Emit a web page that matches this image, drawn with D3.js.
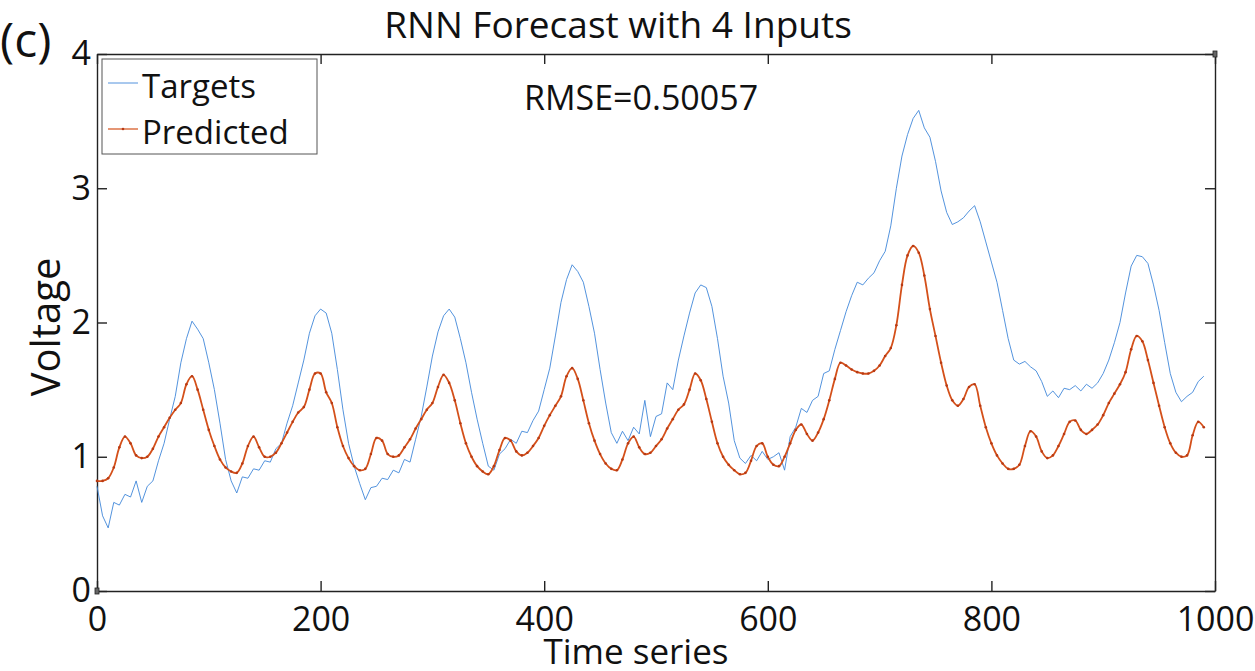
<html>
<head>
	<meta charset="UTF-8">
	<script src="https://cdn.jsdelivr.net/npm/d3@7"></script>
	<style>
		body { margin: 0; background: white; }
		text { font-family: "Open Sans", "Noto Sans", sans-serif; fill: #111; }
		path.targets { fill: none; stroke: #3f87d9; stroke-width: 0.9; }
		path.predicted { fill: none; stroke: #d4501a; stroke-width: 1.8; }
		circle.pdot { fill: #b83a14; }
		.axis path, .axis line { stroke: #222; stroke-width: 1.4; }
		.axis text { font-size: 34px; fill: #111; }
	</style>
</head>
<body>
<svg id="chart" width="1255" height="671"></svg>
<script type="text/javascript">
// time step between samples
var step = 5;

var predicted = [
	0.82, 0.82, 0.84, 0.92, 1.07, 1.15, 1.10, 1.01, 0.99, 1.00,
	1.06, 1.15, 1.22, 1.29, 1.35, 1.40, 1.54, 1.60, 1.50, 1.35,
	1.20, 1.08, 0.98, 0.92, 0.89, 0.88, 0.95, 1.08, 1.15, 1.07,
	1.00, 1.00, 1.03, 1.10, 1.18, 1.26, 1.33, 1.37, 1.50, 1.62,
	1.62, 1.48, 1.40, 1.22, 1.08, 0.99, 0.93, 0.90, 0.91, 1.02,
	1.14, 1.12, 1.02, 1.00, 1.01, 1.07, 1.13, 1.21, 1.28, 1.35,
	1.40, 1.52, 1.61, 1.55, 1.42, 1.25, 1.10, 1.00, 0.93, 0.89,
	0.87, 0.93, 1.05, 1.14, 1.12, 1.04, 1.01, 1.03, 1.08, 1.14,
	1.23, 1.31, 1.38, 1.45, 1.60, 1.66, 1.58, 1.42, 1.25, 1.12,
	1.02, 0.95, 0.91, 0.90, 0.98, 1.10, 1.15, 1.07, 1.02, 1.03,
	1.08, 1.13, 1.21, 1.28, 1.35, 1.39, 1.50, 1.62, 1.57, 1.43,
	1.26, 1.10, 1.00, 0.94, 0.90, 0.87, 0.88, 0.97, 1.08, 1.10,
	1.00, 0.94, 0.93, 1.00, 1.10, 1.20, 1.24, 1.17, 1.12, 1.18,
	1.28, 1.42, 1.58, 1.70, 1.68, 1.65, 1.63, 1.62, 1.62, 1.64,
	1.68, 1.75, 1.81, 1.98, 2.28, 2.50, 2.57, 2.52, 2.35, 2.10,
	1.90, 1.70, 1.53, 1.42, 1.38, 1.43, 1.52, 1.54, 1.38, 1.22,
	1.10, 1.01, 0.95, 0.91, 0.91, 0.94, 1.08, 1.19, 1.15, 1.04,
	0.99, 1.01, 1.08, 1.17, 1.26, 1.27, 1.20, 1.17, 1.20, 1.24,
	1.31, 1.40, 1.47, 1.54, 1.63, 1.80, 1.90, 1.86, 1.72, 1.55,
	1.38, 1.22, 1.10, 1.03, 1.00, 1.01, 1.16, 1.26, 1.22
];

var targets = [
	0.78, 0.56, 0.47, 0.66, 0.64, 0.72, 0.70, 0.82, 0.66, 0.78,
	0.82, 0.97, 1.10, 1.28, 1.45, 1.70, 1.88, 2.01, 1.95, 1.88,
	1.70, 1.50, 1.25, 0.98, 0.82, 0.73, 0.85, 0.84, 0.91, 0.90,
	0.97, 0.96, 1.06, 1.10, 1.25, 1.38, 1.55, 1.72, 1.92, 2.05,
	2.10, 2.07, 1.92, 1.65, 1.35, 1.10, 0.93, 0.80, 0.68, 0.77,
	0.78, 0.84, 0.83, 0.90, 0.88, 0.98, 0.96, 1.13, 1.30, 1.52,
	1.75, 1.93, 2.05, 2.10, 2.04, 1.88, 1.70, 1.48, 1.28, 1.10,
	0.93, 0.90, 1.02, 1.06, 1.13, 1.10, 1.19, 1.18, 1.27, 1.34,
	1.50, 1.66, 1.90, 2.15, 2.32, 2.43, 2.38, 2.30, 2.12, 1.92,
	1.65, 1.40, 1.18, 1.10, 1.19, 1.12, 1.22, 1.17, 1.42, 1.15,
	1.30, 1.32, 1.55, 1.50, 1.72, 1.90, 2.07, 2.22, 2.28, 2.26,
	2.12, 1.88, 1.60, 1.40, 1.12, 0.99, 0.95, 1.01, 0.97, 1.04,
	0.98, 1.00, 1.03, 0.90, 1.15, 1.22, 1.36, 1.33, 1.42, 1.45,
	1.62, 1.64, 1.80, 1.94, 2.08, 2.20, 2.30, 2.28, 2.33, 2.37,
	2.46, 2.53, 2.72, 3.00, 3.24, 3.40, 3.52, 3.58, 3.45, 3.38,
	3.20, 2.98, 2.82, 2.73, 2.75, 2.78, 2.83, 2.87, 2.75, 2.60,
	2.45, 2.30, 2.09, 1.88, 1.72, 1.69, 1.71, 1.67, 1.64, 1.56,
	1.45, 1.49, 1.44, 1.51, 1.50, 1.53, 1.49, 1.54, 1.51, 1.55,
	1.62, 1.72, 1.85, 2.00, 2.22, 2.42, 2.50, 2.49, 2.44, 2.28,
	2.09, 1.85, 1.62, 1.48, 1.41, 1.45, 1.48, 1.56, 1.60
];

var xTicks = [0, 200, 400, 600, 800, 1000];
var yTicks = [0, 1, 2, 3, 4];
var legendLabels = ["Targets", "Predicted"];

(function(d3) {
	var vis = d3.select("#chart");

	var x = d3.scaleLinear().domain([0, 1000]).range([97, 1215]);
	var y = d3.scaleLinear().domain([0, 4]).range([591, 54]);

	var line = d3.line()
		.x(function(d, i) { return x(i * step); })
		.y(function(d) { return y(d); });
	var smooth = d3.line()
		.x(function(d, i) { return x(i * step); })
		.y(function(d) { return y(d); })
		.curve(d3.curveCatmullRom);

	// axes, ticks point inward on all four sides
	vis.append("g").attr("class", "axis")
		.attr("transform", "translate(0," + y(0) + ")")
		.call(d3.axisBottom(x).tickValues(xTicks).tickFormat(d3.format("d"))
			.tickSizeInner(-10).tickSizeOuter(0).tickPadding(16));
	vis.append("g").attr("class", "axis")
		.attr("transform", "translate(" + x(0) + ",0)")
		.call(d3.axisLeft(y).tickValues(yTicks).tickFormat(d3.format("d"))
			.tickSizeInner(-10).tickSizeOuter(0).tickPadding(6));
	vis.append("g").attr("class", "axis")
		.attr("transform", "translate(0," + y(4) + ")")
		.call(d3.axisTop(x).tickValues(xTicks).tickSizeInner(-10).tickSizeOuter(0).tickFormat(""));
	vis.append("g").attr("class", "axis")
		.attr("transform", "translate(" + x(1000) + ",0)")
		.call(d3.axisRight(y).tickValues(yTicks).tickSizeInner(-10).tickSizeOuter(0).tickFormat(""));

	// little corner markers left over from the export
	[[0, 0], [1000, 4]].forEach(function(c) {
		vis.append("rect")
			.attr("x", x(c[0]) - 2).attr("y", y(c[1]) - 3)
			.attr("width", 4).attr("height", 6)
			.attr("fill", "#666").attr("stroke", "#222").attr("stroke-width", 0.8);
	});

	// series
	vis.append("path").datum(targets).attr("class", "targets").attr("d", line);
	vis.append("path").datum(predicted).attr("class", "predicted").attr("d", smooth);
	vis.selectAll("circle.pdot")
		.data(predicted).enter()
		.append("circle")
		.attr("class", "pdot")
		.attr("cx", function(d, i) { return x(i * step); })
		.attr("cy", function(d) { return y(d); })
		.attr("r", 1.3);

	// legend
	var lg = vis.append("g");
	lg.append("rect")
		.attr("x", 102).attr("y", 59).attr("width", 215).attr("height", 95)
		.attr("fill", "white").attr("stroke", "#555").attr("stroke-width", 1);
	lg.append("line").attr("x1", 108).attr("x2", 138).attr("y1", 83).attr("y2", 83)
		.attr("stroke", "#3f87d9").attr("stroke-width", 0.9);
	lg.append("line").attr("x1", 108).attr("x2", 138).attr("y1", 129).attr("y2", 129)
		.attr("stroke", "#d4501a").attr("stroke-width", 1.2);
	lg.append("circle").attr("cx", 123).attr("cy", 129).attr("r", 1.3).attr("class", "pdot");
	lg.selectAll("text.leg")
		.data(legendLabels).enter()
		.append("text")
		.attr("class", "leg")
		.attr("x", 142)
		.attr("y", function(d, i) { return 98 + i * 46; })
		.style("font-size", "33px")
		.text(function(d) { return d; });

	// titles and labels
	vis.append("text").attr("x", 618).attr("y", 38).attr("text-anchor", "middle")
		.style("font-size", "37px").text("RNN Forecast with 4 Inputs");
	vis.append("text").attr("x", 524).attr("y", 110)
		.style("font-size", "34px").text("RMSE=0.50057");
	vis.append("text").attr("x", 0).attr("y", 57)
		.style("font-size", "48px").text("(c)");
	vis.append("text").attr("x", 636).attr("y", 664).attr("text-anchor", "middle")
		.style("font-size", "35px").text("Time series");
	vis.append("text").attr("transform", "translate(60,327) rotate(-90)")
		.attr("text-anchor", "middle")
		.style("font-size", "40px").text("Voltage");
})(window.d3);
</script>
</body>
</html>
